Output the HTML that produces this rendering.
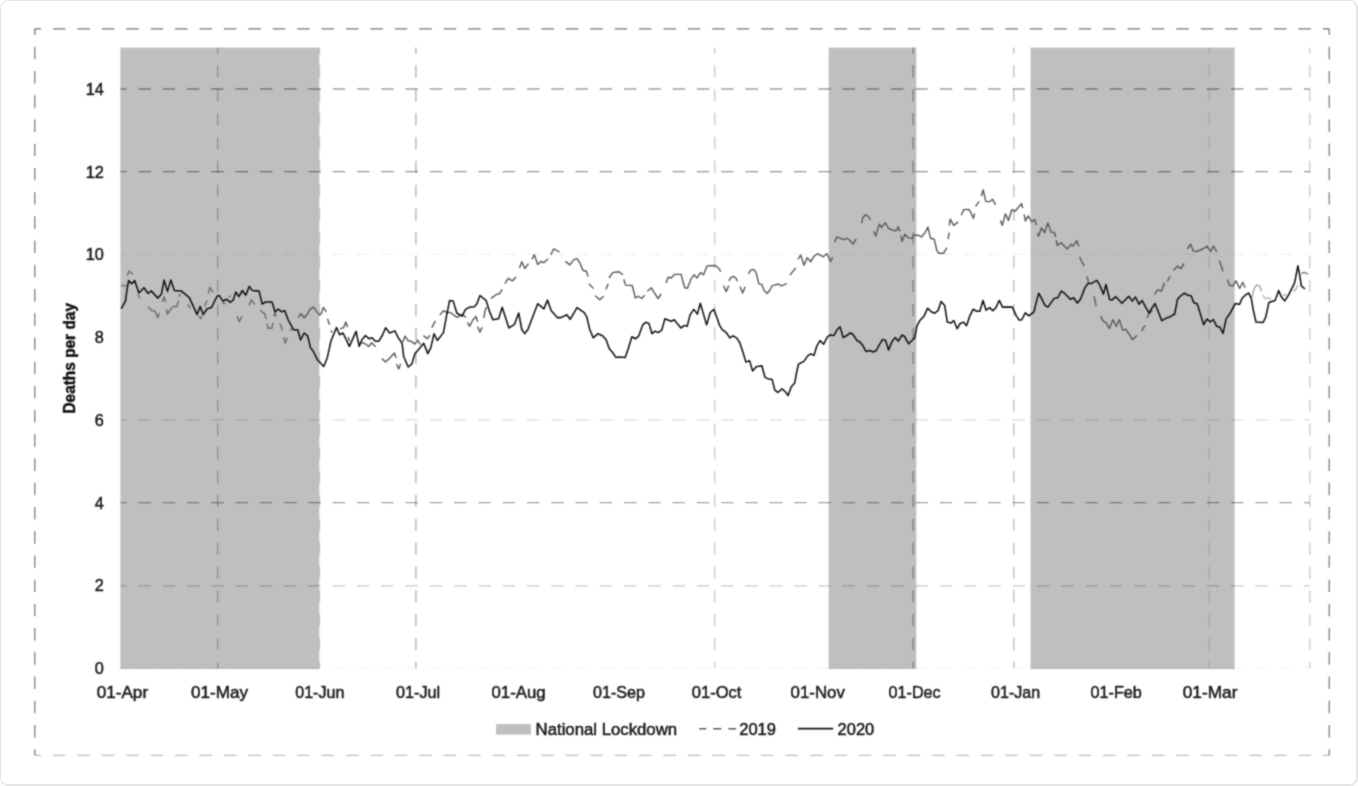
<!DOCTYPE html>
<html lang="en"><head><meta charset="utf-8"><title>Deaths per day, 2019 vs 2020</title>
<style>
html,body{margin:0;padding:0;background:#fff}
body{width:1358px;height:786px;overflow:hidden;position:relative;font-family:"Liberation Sans",sans-serif}
.card{position:absolute;left:0;top:0;width:1358px;height:786px;box-sizing:border-box;border:1px solid #e6e6e6;border-right-width:2px;border-bottom-width:2px;border-radius:8px;background:#fff}
svg{position:absolute;left:0;top:0;display:block}
text{font-family:"Liberation Sans",sans-serif;fill:#1c1c1c;stroke:#1c1c1c;stroke-width:0.5px}
</style></head><body>
<div class="card"></div>
<svg width="1358" height="786" viewBox="0 0 1358 786" role="img" aria-label="Deaths per day, 2019 and 2020, with national lockdown periods shaded">
<defs><filter id="soft" x="0" y="0" width="1358" height="786" filterUnits="userSpaceOnUse" color-interpolation-filters="sRGB"><feConvolveMatrix order="3" kernelMatrix="0.0361 0.1178 0.0361 0.1178 0.3846 0.1178 0.0361 0.1178 0.0361" edgeMode="duplicate"/></filter></defs>
<g filter="url(#soft)">
<g fill="none" stroke="#000" stroke-width="1.2">
<line x1="34.8" y1="28.8" x2="1329.2" y2="28.8" stroke-opacity="0.55" stroke-dasharray="12.51 11.91" stroke-dashoffset="6.26"/>
<line x1="34.8" y1="755.3" x2="1329.2" y2="755.3" stroke-opacity="0.25" stroke-dasharray="12.51 11.91" stroke-dashoffset="6.26"/>
<line x1="34.8" y1="28.8" x2="34.8" y2="755.3" stroke-opacity="0.55" stroke-dasharray="12.41 11.81" stroke-dashoffset="6.20"/>
<line x1="1329.2" y1="28.8" x2="1329.2" y2="755.3" stroke-opacity="0.55" stroke-dasharray="12.41 11.81" stroke-dashoffset="6.20"/>
</g>
<g fill="#bfbfbf">
<rect x="120.4" y="47.6" width="198.9" height="621.5"/>
<rect x="828.7" y="47.6" width="87.6" height="621.5"/>
<rect x="1030.5" y="47.6" width="204.1" height="621.5"/>
</g>
<g fill="none" stroke="#000" stroke-width="1.3">
<line x1="120.4" y1="89.0" x2="1309.8" y2="89.0" stroke-opacity="0.38" stroke-dasharray="12.44 11.84" stroke-dashoffset="6.22"/>
<line x1="120.4" y1="171.7" x2="1309.8" y2="171.7" stroke-opacity="0.41" stroke-dasharray="12.44 11.84" stroke-dashoffset="6.22"/>
<line x1="120.4" y1="254.4" x2="1309.8" y2="254.4" stroke-opacity="0.06" stroke-dasharray="12.44 11.84" stroke-dashoffset="6.22"/>
<line x1="120.4" y1="419.8" x2="1309.8" y2="419.8" stroke-opacity="0.14" stroke-dasharray="12.44 11.84" stroke-dashoffset="6.22"/>
<line x1="120.4" y1="502.6" x2="1309.8" y2="502.6" stroke-opacity="0.36" stroke-dasharray="12.44 11.84" stroke-dashoffset="6.22"/>
<line x1="120.4" y1="585.8" x2="1309.8" y2="585.8" stroke-opacity="0.21" stroke-dasharray="12.44 11.84" stroke-dashoffset="6.22"/>
<line x1="120.4" y1="668.0" x2="1309.8" y2="668.0" stroke-opacity="0.04" stroke-dasharray="12.44 11.84" stroke-dashoffset="6.22"/>
<line x1="217.7" y1="47.6" x2="217.7" y2="668.0" stroke-opacity="0.25" stroke-dasharray="12.23 11.63" stroke-dashoffset="6.12"/>
<line x1="319.6" y1="47.6" x2="319.6" y2="668.0" stroke-opacity="0.17" stroke-dasharray="12.23 11.63" stroke-dashoffset="6.12"/>
<line x1="415.9" y1="47.6" x2="415.9" y2="668.0" stroke-opacity="0.32" stroke-dasharray="12.23 11.63" stroke-dashoffset="6.12"/>
<line x1="714.7" y1="47.6" x2="714.7" y2="668.0" stroke-opacity="0.22" stroke-dasharray="12.23 11.63" stroke-dashoffset="6.12"/>
<line x1="913.2" y1="47.6" x2="913.2" y2="668.0" stroke-opacity="0.36" stroke-dasharray="12.23 11.63" stroke-dashoffset="6.12"/>
<line x1="1013.8" y1="47.6" x2="1013.8" y2="668.0" stroke-opacity="0.27" stroke-dasharray="12.23 11.63" stroke-dashoffset="6.12"/>
<line x1="1209.1" y1="47.6" x2="1209.1" y2="668.0" stroke-opacity="0.13" stroke-dasharray="12.23 11.63" stroke-dashoffset="6.12"/>
<line x1="1309.8" y1="47.6" x2="1309.8" y2="668.0" stroke-opacity="0.21" stroke-dasharray="12.23 11.63" stroke-dashoffset="6.12"/>
</g>
<g fill="none" stroke="#585858" stroke-width="1.4" stroke-linejoin="round">
<polyline stroke-opacity="0.80" points="121.3,285.6 126.8,285.6"/>
<polyline stroke-opacity="0.80" points="127.2,275.7 129.0,270.9 132.7,274.2"/>
<polyline stroke-opacity="0.80" points="137.9,294.5 139.7,298.2"/>
<polyline stroke-opacity="0.80" points="148.2,306.3 151.2,310.3 154.9,311.1 157.8,317.7 159.3,312.9"/>
<polyline stroke-opacity="0.80" points="162.2,301.9 164.1,296.7 165.6,302.2"/>
<polyline stroke-opacity="0.80" points="166.3,309.2 167.4,314.0 171.1,308.5 174.0,306.3 177.0,306.6 178.5,300.7"/>
<polyline stroke-opacity="0.80" points="179.2,296.7 180.3,293.7"/>
<polyline stroke-opacity="0.80" points="188.1,304.1 189.9,308.1"/>
<polyline stroke-opacity="0.80" points="199.1,315.9 200.6,318.8 202.1,315.9"/>
<polyline stroke-opacity="0.80" points="204.7,306.3 206.9,300.4"/>
<polyline stroke-opacity="0.80" points="208.4,293.7 209.8,287.5 213.2,292.3"/>
<polyline stroke-opacity="0.80" points="222.3,303.2 225.7,303.6"/>
<polyline stroke-opacity="0.80" points="228.6,296.6 230.8,296.2"/>
<polyline stroke-opacity="0.80" points="237.1,316.2 239.3,321.7 241.9,316.2"/>
<polyline stroke-opacity="0.80" points="248.9,305.5 251.5,299.9 254.8,304.7"/>
<polyline stroke-opacity="0.80" points="260.0,310.3 264.8,313.9 266.3,319.1"/>
<polyline stroke-opacity="0.80" points="267.0,323.5 268.1,328.3 271.8,328.3 272.9,322.8"/>
<polyline stroke-opacity="0.80" points="274.0,316.2 275.1,312.5 276.2,316.2"/>
<polyline stroke-opacity="0.80" points="279.9,323.5 282.5,330.2"/>
<polyline stroke-opacity="0.80" points="283.5,337.3 285.3,343.2 287.2,337.6"/>
<polyline stroke-opacity="0.80" points="290.1,330.6 291.6,328.4"/>
<polyline points="298.2,317.7 300.8,313.7 304.2,317.7 307.5,314.0 309.7,309.6 313.4,307.0 316.3,311.1 319.6,315.1 321.5,313.3 323.3,307.4 326.3,311.8"/>
<polyline points="327.4,318.8 329.6,324.7"/>
<polyline points="330.7,330.3 332.2,332.5"/>
<polyline points="339.9,328.8 343.6,327.7 345.8,322.1 347.7,327.3"/>
<polyline points="348.1,336.9 349.5,341.3"/>
<polyline points="361.3,342.8 364.7,343.5 368.7,346.5 371.7,342.8 374.6,345.8 375.7,346.8"/>
<polyline points="381.9,358.4 385.5,361.9 389.1,358.8 394.4,353.0 396.2,357.9"/>
<polyline points="396.6,364.1 398.7,369.0 400.6,364.1"/>
<polyline points="402.9,341.9 405.1,336.1 407.8,340.5 411.3,341.4 414.9,344.1 417.6,340.1 420.2,344.5"/>
<polyline points="423.4,335.6 427.4,338.8 430.0,335.2"/>
<polyline points="431.8,327.6 435.4,320.9"/>
<polyline points="439.8,315.1 443.4,310.7 447.0,312.5 450.5,312.5 456.8,317.4 462.1,314.7 466.1,317.4"/>
<polyline points="467.4,322.3 469.7,326.3 472.8,320.0 475.9,316.5 477.7,321.8"/>
<polyline points="477.7,326.7 479.9,332.1 482.1,327.2"/>
<polyline points="483.9,317.8 485.0,310.7 486.6,307.1"/>
<polyline points="491.0,298.4 496.8,294.3 499.5,293.9 502.2,289.4"/>
<polyline points="504.8,283.7 508.4,278.3 512.4,281.0 516.0,277.0"/>
<polyline points="519.5,268.1 521.8,261.8 524.9,268.5 528.5,263.6"/>
<polyline points="532.0,259.2 534.2,254.7 537.8,264.5 540.9,261.4 543.6,262.7 548.1,258.7"/>
<polyline points="550.7,254.7 553.8,248.9 559.6,252.0"/>
<polyline points="565.4,261.4 569.9,264.9 573.9,259.6 577.0,258.7 580.1,263.2 582.8,270.3 586.4,271.2 588.0,276.5"/>
<polyline points="589.0,283.7 593.5,288.6"/>
<polyline points="595.2,295.8 599.7,299.8 603.7,296.2"/>
<polyline points="605.9,289.5 608.2,283.8"/>
<polyline points="609.1,278.0 612.6,272.6 618.9,271.7 622.9,274.8"/>
<polyline points="623.8,279.3 625.5,285.1 632.2,285.5 634.0,292.2 635.3,298.0 638.5,296.2 641.6,298.5 644.7,295.3"/>
<polyline points="647.4,291.3 651.4,287.8 654.5,293.1 658.1,298.5 661.2,294.0"/>
<polyline points="666.1,282.9 668.3,277.1 671.0,278.0 674.5,274.4 681.2,274.4 683.4,283.3 684.8,287.8 687.4,288.2 689.7,282.4 691.0,278.9 694.1,274.8 697.1,278.1 700.4,272.6 703.5,274.8 707.0,265.9 715.1,265.5 718.2,267.7 720.9,271.7"/>
<polyline points="723.5,285.8 726.2,291.6 728.7,285.8"/>
<polyline points="728.9,280.9 730.6,277.8 733.3,276.4 736.0,278.2 737.6,281.3"/>
<polyline points="740.0,286.7 742.7,292.9 745.1,286.7"/>
<polyline points="748.5,273.8 750.7,270.2 753.4,269.3 756.0,272.4 757.4,277.8 758.7,283.6 761.8,284.4 764.0,290.2 767.2,293.4 769.8,290.2 772.1,285.8 775.2,284.9 778.3,284.0 781.4,285.8 786.8,283.6"/>
<polyline points="789.9,275.1 795.7,268.0"/>
<polyline points="797.9,259.5 800.6,255.0 804.1,265.3 807.2,257.7 810.8,261.7 813.9,256.4 817.5,253.7 823.3,256.8 826.8,253.7 828.6,257.3 830.4,261.7 832.6,257.3"/>
<polyline points="834.8,242.3 836.6,237.0 840.6,238.3 843.8,239.6 846.9,238.3 850.0,240.5 853.1,244.1 856.2,238.8"/>
<polyline points="861.6,223.2 862.9,217.4 865.6,214.7 868.3,216.5 870.5,220.0"/>
<polyline points="873.6,231.2 875.8,236.1 877.6,229.4 879.4,224.1 881.6,227.6 885.2,222.7 888.7,228.5 894.1,230.7 896.8,230.3 898.1,226.7 899.9,231.2"/>
<polyline points="900.8,235.6 902.1,241.4 904.8,234.3 908.3,237.9 911.9,238.3 914.1,235.2 918.1,235.2 921.3,237.0 924.8,233.0 927.9,227.2 930.6,238.3 934.2,239.2 935.5,244.5 936.8,250.4 938.6,253.2 943.7,253.2 946.8,247.7"/>
<polyline points="948.0,239.2 949.3,232.6"/>
<polyline points="949.3,225.4 950.2,219.2 953.8,225.4 958.2,221.9"/>
<polyline points="961.3,215.2 963.6,209.8 968.9,209.4 971.6,213.9 973.4,218.3 974.7,213.4"/>
<polyline points="975.6,206.3 979.1,201.4"/>
<polyline points="981.4,196.0 983.2,189.8 985.8,201.4 989.4,201.8 992.5,199.2 995.6,204.9"/>
<polyline points="1000.5,220.5 1002.3,225.4 1005.4,213.9 1008.5,220.5 1011.7,209.8 1015.2,211.2 1021.5,203.6 1022.8,208.1"/>
<polyline points="1024.1,214.4 1025.5,221.0 1028.1,215.9 1031.8,221.8 1034.8,219.6 1036.2,225.1"/>
<polyline points="1037.7,233.2 1038.5,236.2 1041.4,228.0 1044.7,232.5 1047.9,222.9 1051.0,232.1 1054.3,232.5 1055.8,236.9"/>
<polyline points="1056.2,240.2 1057.3,245.4 1061.0,242.8 1067.2,249.1 1071.3,244.3 1073.1,246.1 1076.8,240.6 1078.7,246.5"/>
<polyline points="1079.6,257.0 1081.8,261.8 1084.4,265.9"/>
<polyline points="1087.0,276.6 1088.5,281.7"/>
<polyline points="1094.0,296.1 1096.2,306.1"/>
<polyline points="1154.5,294.3 1157.5,289.9 1161.5,291.0 1164.5,282.8"/>
<polyline points="1100.9,316.0 1102.7,320.8 1106.0,322.7 1109.4,328.6 1112.9,319.7 1116.4,326.4 1119.3,319.4 1122.6,330.1 1126.0,329.3 1132.6,339.6 1137.0,335.6"/>
<polyline points="1141.5,331.2 1145.1,325.3"/>
<polyline points="1147.0,317.9 1149.2,313.5 1152.2,310.9"/>
<polyline points="1167.4,281.5 1170.0,276.3"/>
<polyline points="1173.3,270.4 1177.7,266.0 1181.0,268.6 1184.0,263.4"/>
<polyline points="1187.3,249.0 1190.6,244.2 1193.2,250.9 1196.2,251.6 1202.8,249.0 1207.2,246.1 1210.6,251.6 1213.5,246.1 1216.8,252.0"/>
<polyline points="1219.4,260.5 1223.1,271.5"/>
<polyline points="1227.5,279.6 1229.4,285.2 1233.1,285.9 1236.0,280.8 1239.7,288.5 1242.7,282.2 1245.2,287.8"/>
<polyline stroke-opacity="0.55" points="1252.0,297.1 1254.2,288.2 1256.4,285.3 1259.4,285.6 1261.6,291.2"/>
<polyline stroke-opacity="0.40" points="1262.3,294.9 1265.3,298.5 1268.6,297.8 1271.2,299.3"/>
<polyline stroke-opacity="0.40" points="1282.2,296.3 1285.2,294.1 1286.7,296.3"/>
<polyline stroke-opacity="0.50" points="1293.3,291.2 1295.5,289.7 1297.7,285.3"/>
<polyline stroke-opacity="0.80" points="1301.4,273.5 1304.4,272.3 1308.1,274.2"/>
</g>
<polyline fill="none" stroke="#111" stroke-width="1.55" stroke-linejoin="round" stroke-linecap="round" points="121.5,308.2 125.5,301.2 127.0,289.9 128.6,280.6 131.6,283.7 134.7,280.6 138.9,293.0 144.0,287.8 148.1,293.5 151.2,290.9 157.9,298.1 161.5,294.0 164.1,280.1 167.5,291.4 170.8,280.1 174.4,290.4 181.1,290.9 189.4,297.6 197.1,314.6 200.2,306.4 203.3,314.6 206.9,309.0 211.5,307.4 217.2,296.1 219.3,295.6 222.9,301.2 226.5,299.2 230.1,302.3 233.2,300.2 235.8,292.0 238.9,296.6 242.4,290.5 245.7,295.2 249.3,286.4 252.4,290.6 259.1,291.1 262.2,304.0 265.8,302.0 272.0,302.0 275.0,311.8 278.1,309.2 281.8,311.8 284.8,310.7 288.0,319.5 293.6,329.8 297.7,329.8 300.6,340.0 304.2,333.0 307.6,335.8 310.4,347.4 313.4,351.5 317.5,359.8 323.7,366.5 327.3,357.7 330.9,341.2 336.5,327.5 339.6,334.7 343.0,333.0 349.4,346.4 356.1,331.4 359.2,346.4 361.9,339.7 365.4,335.6 369.1,338.7 372.1,337.8 375.3,341.2 378.9,341.2 382.5,335.0 385.6,327.8 389.7,333.0 394.8,330.9 398.5,338.1 402.1,343.3 403.6,356.2 408.2,367.0 411.9,363.9 414.9,353.6 418.6,349.5 423.7,343.3 427.8,353.6 430.9,347.4 434.0,333.8 437.4,340.5 443.4,332.6 446.5,316.1 449.6,300.6 453.2,301.1 456.8,313.0 462.0,316.1 465.6,309.4 469.2,307.3 474.3,306.8 476.9,303.7 480.0,295.5 486.2,300.6 489.3,310.9 492.9,319.7 498.6,318.7 502.2,307.3 508.9,327.9 514.5,324.3 518.7,313.0 521.8,329.5 524.8,333.6 527.9,329.5 537.7,303.7 543.9,308.9 547.5,300.1 551.1,310.4 557.3,317.6 560.9,317.6 566.8,314.7 570.2,319.3 577.0,307.6 584.2,312.7 586.8,316.9 589.6,329.0 593.2,337.8 597.9,333.7 602.5,335.7 606.1,339.8 609.2,348.6 612.8,352.7 615.9,357.4 619.0,356.9 625.2,357.4 628.3,348.6 631.9,336.8 635.5,338.8 638.6,336.2 642.7,324.9 645.8,322.3 648.9,323.4 652.0,333.7 655.1,331.1 658.2,332.6 661.8,330.1 664.9,318.7 671.1,321.3 674.2,319.7 680.9,328.0 684.5,325.4 687.1,326.4 690.2,314.6 693.8,309.4 697.4,314.1 700.3,303.2 706.6,324.9 710.3,312.5 713.9,309.4 717.0,317.7 719.6,325.4 722.2,329.6 726.3,332.7 729.9,337.9 733.0,335.8 736.6,337.9 739.7,342.5 742.8,351.8 745.9,362.1 749.5,360.6 752.6,370.9 756.2,366.8 761.9,365.7 764.9,377.1 768.6,379.1 772.2,379.6 774.7,389.9 777.8,392.5 782.0,388.9 785.6,392.0 788.1,395.6 791.2,386.9 794.8,382.7 796.4,373.5 798.5,364.2 804.1,361.1 807.7,355.9 810.8,353.9 813.9,355.4 817.0,345.6 820.1,340.6 823.7,344.2 827.5,336.7 830.4,334.9 834.0,335.4 837.0,329.8 840.1,326.9 843.2,337.6 846.8,335.5 850.4,332.9 853.0,334.5 856.6,340.2 860.2,342.2 863.3,346.3 865.9,351.5 869.5,350.5 873.1,352.0 876.2,350.5 879.3,344.8 882.4,339.6 885.5,340.2 888.6,349.9 892.2,341.2 895.3,337.6 898.4,341.2 902.0,335.0 904.5,336.5 908.7,343.8 911.8,340.7 914.8,337.6 916.9,326.2 919.5,321.1 924.1,315.9 927.7,308.2 931.3,311.8 934.4,313.3 938.0,310.7 941.1,301.5 944.7,305.6 947.3,322.1 950.9,323.1 953.8,320.5 957.2,328.7 960.2,323.5 963.4,322.1 966.5,325.7 969.6,316.4 973.2,309.2 976.8,311.2 979.9,311.2 983.0,300.4 986.1,310.2 989.7,307.6 992.8,310.7 995.9,307.6 999.3,300.4 1002.6,307.1 1012.4,307.1 1016.0,315.4 1019.1,320.0 1021.6,320.0 1025.3,312.8 1028.9,315.9 1034.0,311.8 1036.6,300.9 1038.7,293.2 1041.8,298.9 1044.8,305.1 1047.9,307.1 1054.1,298.4 1057.7,297.8 1061.3,291.1 1064.4,293.2 1070.6,299.4 1073.7,297.8 1077.4,303.1 1080.6,299.0 1085.0,287.6 1088.1,283.3 1091.1,283.6 1096.8,280.3 1099.8,285.2 1103.4,294.1 1106.0,284.5 1109.6,299.6 1112.2,299.9 1115.8,296.7 1122.0,303.2 1128.7,296.3 1132.3,301.1 1135.4,297.0 1139.0,304.2 1142.1,300.6 1148.9,313.0 1155.0,303.5 1161.8,320.7 1166.4,318.1 1169.5,317.1 1174.7,314.0 1177.5,299.4 1180.0,296.5 1184.4,293.2 1188.0,295.2 1191.1,295.8 1193.7,302.5 1197.3,304.0 1203.7,324.7 1207.1,319.0 1210.2,321.9 1213.3,319.5 1216.6,326.2 1220.0,327.3 1223.0,333.5 1226.1,318.9 1229.7,313.8 1235.4,303.5 1239.5,304.5 1242.1,298.3 1245.7,294.7 1248.8,293.1 1251.3,298.3 1253.4,310.7 1256.0,322.0 1263.2,322.5 1265.8,316.9 1268.9,302.4 1275.1,300.4 1278.7,290.6 1281.2,296.8 1284.8,300.9 1288.5,295.2 1294.6,282.8 1296.2,274.6 1297.9,265.8 1299.8,275.6 1301.3,285.9 1304.4,288.5"/>
<g font-size="16.3" text-anchor="end">
<text x="103.8" y="673.9">0</text>
<text x="103.8" y="591.2">2</text>
<text x="103.8" y="508.5">4</text>
<text x="103.8" y="425.7">6</text>
<text x="103.8" y="343.0">8</text>
<text x="103.8" y="260.3">10</text>
<text x="103.8" y="177.6">12</text>
<text x="103.8" y="94.9">14</text>
</g>
<g font-size="16.3" text-anchor="middle">
<text x="122.4" y="697.6" textLength="51.4" lengthAdjust="spacingAndGlyphs">01-Apr</text>
<text x="219.6" y="697.6" textLength="57.1" lengthAdjust="spacingAndGlyphs">01-May</text>
<text x="319.8" y="697.6" textLength="49.1" lengthAdjust="spacingAndGlyphs">01-Jun</text>
<text x="418.1" y="697.6" textLength="44.2" lengthAdjust="spacingAndGlyphs">01-Jul</text>
<text x="518.6" y="697.6" textLength="54.2" lengthAdjust="spacingAndGlyphs">01-Aug</text>
<text x="619.0" y="697.6" textLength="51.9" lengthAdjust="spacingAndGlyphs">01-Sep</text>
<text x="716.6" y="697.6" textLength="49.7" lengthAdjust="spacingAndGlyphs">01-Oct</text>
<text x="817.7" y="697.6" textLength="54.4" lengthAdjust="spacingAndGlyphs">01-Nov</text>
<text x="914.6" y="697.6" textLength="52.1" lengthAdjust="spacingAndGlyphs">01-Dec</text>
<text x="1015.6" y="697.6" textLength="49.1" lengthAdjust="spacingAndGlyphs">01-Jan</text>
<text x="1116.2" y="697.6" textLength="51.4" lengthAdjust="spacingAndGlyphs">01-Feb</text>
<text x="1210.1" y="697.6" textLength="54.7" lengthAdjust="spacingAndGlyphs">01-Mar</text>
</g>
<text transform="translate(74.6 358.3) rotate(-90)" font-size="16.8" font-weight="bold" text-anchor="middle" textLength="110.5" lengthAdjust="spacingAndGlyphs" style="fill:#0d0d0d">Deaths per day</text>
<rect x="496.1" y="724.1" width="34.9" height="10.5" fill="#bfbfbf"/>
<text x="535.6" y="734.6" font-size="16" textLength="141.5" lengthAdjust="spacingAndGlyphs">National Lockdown</text>
<path d="M699.1 728.7H706.3M713.2 728.7H721.4M728.4 728.7H736.2" fill="none" stroke="#5a5a5a" stroke-width="1.6"/>
<text x="739.2" y="734.6" font-size="16" textLength="36.8" lengthAdjust="spacingAndGlyphs">2019</text>
<line x1="797.9" y1="728.7" x2="833.2" y2="728.7" stroke="#111" stroke-width="1.7"/>
<text x="837.6" y="734.6" font-size="16" textLength="36.6" lengthAdjust="spacingAndGlyphs">2020</text>
</g>
</svg>
</body></html>
